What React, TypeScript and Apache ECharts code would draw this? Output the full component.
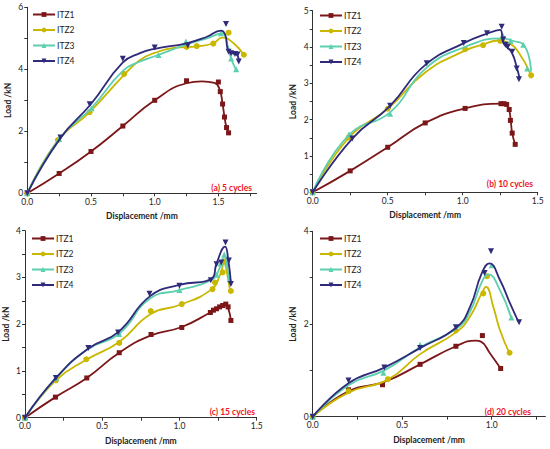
import React, { useEffect, useRef } from "react";
import * as echarts from "echarts";

type P = [number, number][];

const seriesNames = ["ITZ1", "ITZ2", "ITZ3", "ITZ4"];
const seriesColors = ["#7b1719", "#c9b700", "#5ccfae", "#2f2b7a"];
const seriesSymbols = ["rect", "circle", "triangle", "path://M0,0 L10,0 L5,9 Z"];
const panelLabels = ["(a) 5 cycles", "(b) 10 cycles", "(c) 15 cycles", "(d) 20 cycles"];

// ---------- measured points (markers) ----------
// (a) 5 cycles
const a_ITZ1: P = [[0, 0], [0.25, 0.64], [0.5, 1.35], [0.75, 2.17], [1.0, 3.0], [1.25, 3.63], [1.5, 3.59], [1.515, 3.28], [1.533, 2.88], [1.548, 2.46], [1.564, 2.12], [1.58, 1.95]];
const a_ITZ2: P = [[0, 0], [0.24, 1.72], [0.49, 2.62], [0.76, 3.85], [1.25, 4.72], [1.33, 4.75], [1.46, 4.83], [1.58, 5.18], [1.7, 4.47]];
const a_ITZ3: P = [[0, 0], [0.25, 1.75], [0.505, 2.74], [1.03, 4.46], [1.245, 4.9], [1.52, 5.16], [1.6, 4.35], [1.64, 4.0]];
const a_ITZ4: P = [[0, 0], [0.26, 1.8], [0.49, 2.87], [0.75, 4.34], [1.0, 4.7], [1.26, 4.77], [1.56, 5.46], [1.58, 4.57], [1.6, 4.52], [1.63, 4.49], [1.65, 4.48], [1.66, 4.25]];
// (b) 10 cycles
const b_ITZ1: P = [[0, 0], [0.25, 0.59], [0.5, 1.24], [0.75, 1.91], [1.016, 2.31], [1.255, 2.44], [1.275, 2.44], [1.293, 2.42], [1.31, 2.28], [1.318, 1.98], [1.33, 1.63], [1.35, 1.32]];
const b_ITZ2: P = [[0, 0], [0.24, 1.51], [0.5, 2.3], [1.016, 3.94], [1.136, 4.05], [1.25, 4.17], [1.456, 3.22]];
const b_ITZ3: P = [[0, 0], [0.242, 1.6], [0.516, 2.16], [1.27, 4.3], [1.32, 4.17], [1.404, 4.06], [1.43, 3.41]];
const b_ITZ4: P = [[0, 0], [0.264, 1.48], [0.516, 2.38], [0.76, 3.55], [1.007, 4.11], [1.162, 4.38], [1.26, 4.56], [1.27, 4.21], [1.285, 4.06], [1.3, 4.01], [1.33, 3.87], [1.36, 3.41], [1.375, 3.11]];
// (c) 15 cycles
const c_ITZ1: P = [[0, 0], [0.197, 0.44], [0.4, 0.85], [0.61, 1.39], [0.816, 1.78], [1.015, 1.93], [1.2, 2.25], [1.22, 2.3], [1.24, 2.33], [1.26, 2.37], [1.28, 2.4], [1.3, 2.43], [1.315, 2.37], [1.333, 2.08]];
const c_ITZ2: P = [[0, 0], [0.2, 0.8], [0.397, 1.25], [0.61, 1.6], [0.814, 2.28], [1.015, 2.43], [1.214, 2.75], [1.23, 2.89], [1.28, 3.11], [1.29, 3.34], [1.333, 2.71]];
const c_ITZ3: P = [[0, 0], [0.2, 0.85], [0.61, 1.79], [1.0, 2.73], [1.24, 3.06], [1.266, 3.3], [1.29, 3.49], [1.31, 3.3], [1.325, 2.96]];
const c_ITZ4: P = [[0, 0], [0.2, 0.85], [0.41, 1.49], [0.603, 1.82], [0.806, 2.65], [1.0, 2.82], [1.203, 2.94], [1.24, 3.28], [1.27, 3.32], [1.298, 3.75], [1.32, 3.36], [1.333, 2.86]];
// (d) 20 cycles
const d_ITZ1: P = [[0, 0], [0.2, 0.58], [0.39, 0.69], [0.6, 1.13], [0.8, 1.52], [0.948, 1.75], [1.05, 1.04]];
const d_ITZ2: P = [[0, 0], [0.2, 0.55], [0.42, 0.81], [0.8, 1.86], [0.953, 2.66], [0.974, 3.03], [1.1, 1.38]];
const d_ITZ3: P = [[0, 0], [0.395, 0.95], [0.6, 1.55], [1.0, 3.27], [1.11, 2.14]];
const d_ITZ4: P = [[0, 0], [0.2, 0.78], [0.4, 1.06], [0.6, 1.48], [0.8, 1.93], [0.96, 3.1], [0.996, 3.57], [1.153, 2.04]];

// ---------- fitted curves ----------
const a_ITZ1_fit: P = [[0, 0], [0.25, 0.64], [0.5, 1.35], [0.75, 2.17], [1.0, 3.0], [1.25, 3.55], [1.37, 3.61], [1.47, 3.56], [1.51, 3.35], [1.533, 2.88], [1.548, 2.46], [1.564, 2.12], [1.58, 1.95]];
const a_ITZ2_fit: P = [[0, 0], [0.24, 1.7], [0.49, 2.62], [0.76, 3.82], [0.885, 4.3], [1.0, 4.53], [1.15, 4.69], [1.34, 4.74], [1.46, 4.84], [1.53, 5.02], [1.62, 4.84], [1.7, 4.46]];
const a_ITZ3_fit: P = [[0, 0], [0.25, 1.75], [0.505, 2.76], [0.75, 3.95], [0.885, 4.25], [1.0, 4.42], [1.25, 4.8], [1.41, 5.0], [1.53, 5.16], [1.57, 4.8], [1.6, 4.35], [1.64, 3.98]];
const a_ITZ4_fit: P = [[0, 0], [0.26, 1.78], [0.5, 2.88], [0.75, 4.22], [0.885, 4.52], [1.0, 4.66], [1.25, 4.84], [1.41, 5.05], [1.52, 5.25], [1.555, 5.1], [1.57, 4.7], [1.585, 4.57], [1.62, 4.5], [1.65, 4.45], [1.66, 4.27]];
const b_ITZ1_fit: P = [[0, 0], [0.25, 0.59], [0.5, 1.24], [0.75, 1.91], [1.016, 2.31], [1.26, 2.44], [1.29, 2.41], [1.31, 2.25], [1.32, 1.98], [1.33, 1.63], [1.35, 1.32]];
const b_ITZ2_fit: P = [[0, 0], [0.24, 1.5], [0.5, 2.3], [0.75, 3.3], [1.015, 3.9], [1.136, 4.07], [1.237, 4.18], [1.3, 4.12], [1.37, 3.87], [1.455, 3.23]];
const b_ITZ3_fit: P = [[0, 0], [0.242, 1.58], [0.516, 2.2], [0.75, 3.4], [1.015, 4.0], [1.26, 4.24], [1.327, 4.18], [1.415, 4.01], [1.455, 3.32]];
const b_ITZ4_fit: P = [[0, 0], [0.264, 1.48], [0.516, 2.38], [0.749, 3.5], [1.015, 4.12], [1.17, 4.38], [1.249, 4.47], [1.27, 4.12], [1.29, 4.02], [1.327, 3.85], [1.36, 3.45], [1.38, 3.12]];
const c_ITZ1_fit: P = [[0, 0], [0.197, 0.44], [0.4, 0.85], [0.61, 1.39], [0.816, 1.76], [1.015, 1.94], [1.2, 2.25], [1.26, 2.36], [1.3, 2.42], [1.315, 2.35], [1.333, 2.08]];
const c_ITZ2_fit: P = [[0, 0], [0.2, 0.8], [0.397, 1.24], [0.61, 1.62], [0.814, 2.22], [1.0, 2.41], [1.21, 2.75], [1.263, 3.06], [1.289, 3.3], [1.31, 3.05], [1.328, 2.7]];
const c_ITZ3_fit: P = [[0, 0], [0.2, 0.84], [0.4, 1.45], [0.61, 1.8], [0.81, 2.55], [1.0, 2.73], [1.21, 2.95], [1.26, 3.2], [1.289, 3.45], [1.31, 3.2], [1.323, 2.91]];
const c_ITZ4_fit: P = [[0, 0], [0.2, 0.85], [0.41, 1.48], [0.603, 1.83], [0.81, 2.6], [1.0, 2.84], [1.21, 2.98], [1.24, 3.3], [1.295, 3.66], [1.315, 3.4], [1.334, 2.84]];
const d_ITZ1_fit: P = [[0, 0], [0.2, 0.55], [0.4, 0.75], [0.6, 1.13], [0.8, 1.52], [0.91, 1.64], [0.94, 1.62], [0.99, 1.37], [1.05, 1.04]];
const d_ITZ2_fit: P = [[0, 0], [0.2, 0.52], [0.42, 0.8], [0.6, 1.35], [0.804, 1.83], [0.879, 2.16], [0.944, 2.66], [0.968, 2.8], [1.009, 2.37], [1.046, 1.87], [1.098, 1.38]];
const d_ITZ3_fit: P = [[0, 0], [0.2, 0.68], [0.4, 1.0], [0.6, 1.5], [0.804, 1.9], [0.879, 2.27], [0.944, 2.9], [0.981, 3.07], [1.046, 2.73], [1.108, 2.14]];
const d_ITZ4_fit: P = [[0, 0], [0.2, 0.72], [0.4, 1.06], [0.6, 1.48], [0.804, 1.93], [0.879, 2.37], [0.944, 3.09], [0.987, 3.31], [1.046, 2.95], [1.102, 2.45], [1.149, 2.05]];

const panelPoints: P[][] = [
  [a_ITZ1, a_ITZ2, a_ITZ3, a_ITZ4],
  [b_ITZ1, b_ITZ2, b_ITZ3, b_ITZ4],
  [c_ITZ1, c_ITZ2, c_ITZ3, c_ITZ4],
  [d_ITZ1, d_ITZ2, d_ITZ3, d_ITZ4],
];
const panelFits: P[][] = [
  [a_ITZ1_fit, a_ITZ2_fit, a_ITZ3_fit, a_ITZ4_fit],
  [b_ITZ1_fit, b_ITZ2_fit, b_ITZ3_fit, b_ITZ4_fit],
  [c_ITZ1_fit, c_ITZ2_fit, c_ITZ3_fit, c_ITZ4_fit],
  [d_ITZ1_fit, d_ITZ2_fit, d_ITZ3_fit, d_ITZ4_fit],
];

// ---------- axes ----------
const xMax = [1.8, 1.5, 1.5, 1.3];
const xTicks = [
  [0, 0.25, 0.5, 0.75, 1.0, 1.25, 1.5, 1.75],
  [0, 0.25, 0.5, 0.75, 1.0, 1.25, 1.5],
  [0, 0.25, 0.5, 0.75, 1.0, 1.25, 1.5],
  [0, 0.25, 0.5, 0.75, 1.0, 1.25],
];
const xLabels = [
  [0, 0.5, 1.0, 1.5],
  [0, 0.5, 1.0, 1.5],
  [0, 0.5, 1.0, 1.5],
  [0, 0.5, 1.0],
];
const yMax = [6, 5, 4, 4];
const yTicks = [
  [0, 1, 2, 3, 4, 5, 6],
  [0, 0.5, 1, 1.5, 2, 2.5, 3, 3.5, 4, 4.5, 5],
  [0, 0.5, 1, 1.5, 2, 2.5, 3, 3.5, 4],
  [0, 1, 2, 3, 4],
];
const yLabels = [
  [0, 2, 4, 6],
  [0, 1, 2, 3, 4, 5],
  [0, 1, 2, 3, 4],
  [0, 2, 4],
];

// ---------- layout (px) ----------
const grids = [
  { left: 27.3, top: 7.3, width: 229.3, height: 186 },
  { left: 312.7, top: 10.7, width: 225, height: 181.6 },
  { left: 25, top: 230.7, width: 231.7, height: 187 },
  { left: 312.7, top: 231.3, width: 232.7, height: 185.4 },
];
const legendPos = [
  { left: 32, top: 10 },
  { left: 319, top: 11 },
  { left: 31, top: 234 },
  { left: 319, top: 234 },
];
const labelPos = [
  { x: 252, y: 188 },
  { x: 533, y: 184 },
  { x: 255, y: 411.5 },
  { x: 531, y: 411.5 },
];

const FONT = "Lato, 'Open Sans', sans-serif";
const AXIS_COLOR = "#333";

export default function App() {
  const ref = useRef<HTMLDivElement>(null);
  useEffect(() => {
    if (!ref.current) return;
    const chart = echarts.init(ref.current, undefined, { renderer: "svg" });
    const xAxis: any[] = [];
    const yAxis: any[] = [];
    const series: any[] = [];
    const legend: any[] = [];
    const graphic: any[] = [];
    for (let p = 0; p < 4; p++) {
      xAxis.push({
        type: "value",
        gridIndex: p,
        min: 0,
        max: xMax[p],
        interval: 0.5,
        name: "Displacement /mm",
        nameLocation: "middle",
        nameGap: 18.5,
        nameTextStyle: { fontFamily: FONT, fontWeight: "bold", fontSize: 8.5, color: "#222" },
        axisLine: { show: true, onZero: false, lineStyle: { color: AXIS_COLOR, width: 1 } },
        axisTick: { show: true, length: 3, customValues: xTicks[p], lineStyle: { color: AXIS_COLOR } },
        axisLabel: {
          customValues: xLabels[p],
          fontFamily: FONT,
          fontSize: 8.5,
          color: "#222",
          margin: 4,
          formatter: (v: number) => v.toFixed(1),
        },
        splitLine: { show: false },
      });
      yAxis.push({
        type: "value",
        gridIndex: p,
        min: 0,
        max: yMax[p],
        interval: 1,
        name: "Load /kN",
        nameLocation: "middle",
        nameGap: 15,
        nameTextStyle: { fontFamily: FONT, fontWeight: "bold", fontSize: 8.5, color: "#222" },
        axisLine: { show: true, onZero: false, lineStyle: { color: AXIS_COLOR, width: 1 } },
        axisTick: { show: true, length: 3, customValues: yTicks[p], lineStyle: { color: AXIS_COLOR } },
        axisLabel: {
          customValues: yLabels[p],
          fontFamily: FONT,
          fontSize: 8.5,
          color: "#222",
          margin: 4,
          formatter: (v: number) => String(v),
        },
        splitLine: { show: false },
      });
      for (let s = 0; s < 4; s++) {
        series.push({
          type: "line",
          name: seriesNames[s],
          xAxisIndex: p,
          yAxisIndex: p,
          data: panelFits[p][s],
          smooth: 0.5,
          symbol: seriesSymbols[s],
          symbolSize: s === 0 ? 5 : 6,
          showSymbol: false,
          color: seriesColors[s],
          lineStyle: { color: seriesColors[s], width: 1.8 },
          itemStyle: { color: seriesColors[s] },
          z: 2 + s,
        });
      }
      for (let s = 0; s < 4; s++) {
        series.push({
          type: "scatter",
          name: seriesNames[s],
          xAxisIndex: p,
          yAxisIndex: p,
          data: panelPoints[p][s],
          symbol: seriesSymbols[s],
          symbolSize: s === 0 ? 5 : 6,
          itemStyle: { color: seriesColors[s], opacity: 1 },
          z: 2 + s,
        });
      }
      legend.push({
        data: seriesNames,
        orient: "vertical",
        left: legendPos[p].left,
        top: legendPos[p].top,
        itemWidth: 22,
        itemHeight: 6,
        itemGap: 6.5,
        padding: 0,
        selectedMode: false,
        textStyle: { fontFamily: FONT, fontSize: 8.5, color: "#222", padding: [0, 0, 0, -3] },
      });
      graphic.push({
        type: "text",
        x: labelPos[p].x,
        y: labelPos[p].y,
        style: {
          text: panelLabels[p],
          fill: "#f0141e",
          font: `bold 8.5px ${FONT}`,
          textAlign: "right",
          textVerticalAlign: "middle",
        },
      });
    }
    chart.setOption({
      animation: false,
      backgroundColor: "#fff",
      grid: grids.map((g) => ({ ...g, containLabel: false })),
      xAxis,
      yAxis,
      series,
      legend,
      graphic,
    });
    return () => chart.dispose();
  }, []);
  return (
    <div
      ref={ref}
      style={{ position: "fixed", left: 0, top: 0, width: 550, height: 449, background: "#fff" }}
    />
  );
}
